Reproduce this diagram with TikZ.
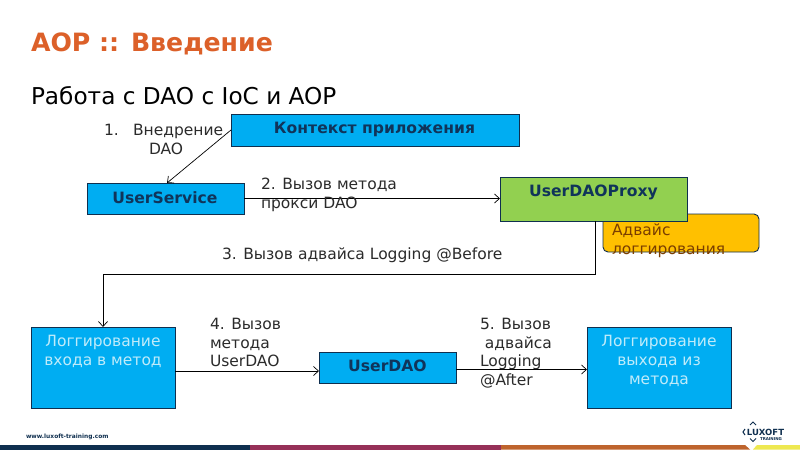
\documentclass[tikz,border=0pt]{standalone}
\usepackage{fontspec}
\setmainfont{DejaVu Sans}
\usetikzlibrary{arrows.meta}
\definecolor{bluebox}{HTML}{00ADF2}
\definecolor{greenbox}{HTML}{92D050}
\definecolor{amberbox}{HTML}{FFC000}
\definecolor{outl}{HTML}{0F2F4F}
\definecolor{boxtxt}{HTML}{10345A}
\definecolor{lbl}{HTML}{2B2B2B}
\definecolor{titlec}{HTML}{DC6029}
\definecolor{lightt}{HTML}{BFEBFA}
\definecolor{advt}{HTML}{7A3E00}
\definecolor{barred}{HTML}{963058}
\definecolor{barorange}{HTML}{BE642D}
\definecolor{baryellow}{HTML}{EEE850}
\tikzset{
 px/.style={inner sep=0pt,outer sep=0pt},
 boxn/.style={px,draw=outl,line width=0.9pt,fill=bluebox,minimum width=#1},
 boxh/.style={minimum height=#1},
 strong/.style={px,font=\fontsize{15.6}{18}\selectfont\bfseries,text=boxtxt},
 pale/.style={px,font=\fontsize{15.5}{19}\selectfont,text=lightt,align=center},
 note/.style={px,font=\fontsize{15.5}{18.8}\selectfont,text=lbl,align=left,anchor=north west},
 conn/.style={draw=black,line width=0.7pt,-{Straight Barb[length=5pt,width=9pt]}}
}
\begin{document}
\begin{tikzpicture}[x=1pt,y=-1pt]
\useasboundingbox (0,0) rectangle (800,450);
\fill[white] (0,0) rectangle (800,450);
\node[px,anchor=base west,font=\fontsize{25.2}{28}\selectfont\bfseries,text=titlec] (title) at (31,51) {AOP :: Введение};
\node[px,anchor=base west,font=\fontsize{23.2}{26}\selectfont,text=black] (sub) at (31,104) {Работа с DAO с IoC и AOP};

\node[boxn=288.6pt,boxh=32pt,anchor=north west] (ctx) at (231,114) {};
\node[strong] (ctxt) at (374.5,129.5) {Контекст приложения};
\node[boxn=157pt,boxh=31pt,anchor=north west] (us) at (87,183) {};
\node[strong] (ust) at (165,197.5) {UserService};
\node[boxn=156pt,boxh=38pt,anchor=north west,fill=amberbox,rounded corners=5pt] (adv) at (603,214) {};
\node[px,anchor=north west,font=\fontsize{15.5}{19}\selectfont,text=advt,align=left] (advtx) at (612,224) {Адвайс\\логгирования};
\node[boxn=187pt,boxh=44pt,anchor=north west,fill=greenbox] (proxy) at (500,177) {};
\node[strong] (proxyt) at (593.5,192.5) {UserDAOProxy};
\node[boxn=144pt,boxh=81pt,anchor=north west] (login) at (31,327) {};
\node[pale,anchor=north] (logint) at (103,335.5) {Логгирование\\входа в метод};
\node[boxn=137pt,boxh=31pt,anchor=north west] (dao) at (319,352) {};
\node[strong] (daot) at (387.5,365.5) {UserDAO};
\node[boxn=144pt,boxh=81pt,anchor=north west] (logout) at (587,327) {};
\node[pale,anchor=north] (logoutt) at (659,335.5) {Логгирование\\выхода из\\метода};

\coordinate (c3a) at (595,221);
\coordinate (c3b) at (595,274);
\coordinate (c3c) at (103,274);
\draw[conn] (ctx.west) -- (167,183);
\draw[conn] (us.east) -- (us.east -| proxy.west);
\draw[conn] (c3a) -- (c3b) -- (c3c) -- (login.north);
\draw[conn] (login.east |- 0,371) -- (dao.west |- 0,371);
\draw[conn] (dao.east |- 0,369.5) -- (logout.west |- 0,369.5);

\node[note] (n1a) at (104,124) {1.};
\node[note] (n1b) at (133,124) {Внедрение};
\node[note] (n1c) at (149,143) {DAO};
\node[note] (n2) at (261,178) {2. Вызов метода\\прокси DAO};
\node[note] (n3) at (222,247.5) {3. Вызов адвайса Logging @Before};
\node[note] (n4) at (210,318) {4. Вызов\\метода\\UserDAO};
\node[note] (n5) at (480,318) {5. Вызов\\\ адвайса\\Logging\\@After};

\node[px,anchor=base west,font=\fontsize{5.9}{7}\selectfont\bfseries,text=outl] (url) at (26,438) {www.luxoft-training.com};

\fill[outl] (0,445) rectangle (250,449.5);
\fill[barred] (250,445) rectangle (501,449.5);
\fill[barorange] (501,445) -- (745,445) -- (750,449.5) -- (501,449.5) -- cycle;
\fill[baryellow] (753,449.5) -- (757,445) -- (800,445) -- (800,449.5) -- cycle;

\node[px,font=\fontsize{8.5}{9}\selectfont\bfseries,text=outl] (lux) at (765.5,432) {LUXOFT};
\node[px,font=\fontsize{4}{5}\selectfont\bfseries,text=outl] (tr) at (771,439.5) {TRAINING};
\draw[outl,line width=1pt] (745,429) -- (743,432) -- (745,435);
\draw[outl,line width=1pt] (750,425) -- (753,422) -- (756,425);
\draw[outl,line width=1pt] (750,438.5) -- (753,441.5) -- (756,438.5);
\end{tikzpicture}
\end{document}
